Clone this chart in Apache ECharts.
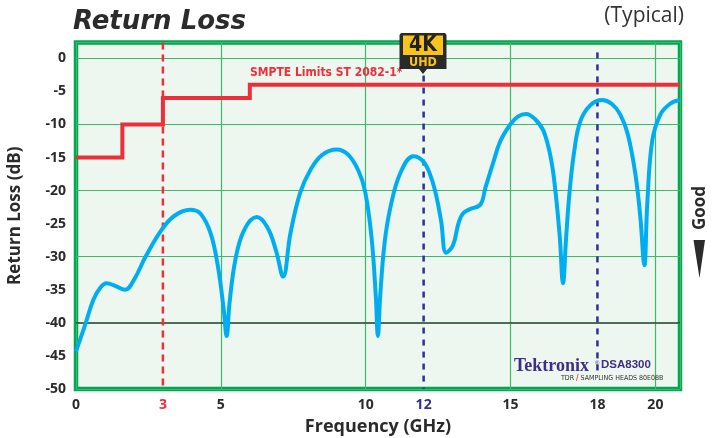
<!DOCTYPE html>
<html><head><meta charset="utf-8">
<script src="https://cdn.jsdelivr.net/npm/echarts@6/dist/echarts.min.js"></script>
<style>html,body{margin:0;padding:0;background:#fff}#c{width:718px;height:438px}</style>
</head><body><div id="c"></div>
<script>
// ---- data ----
const freqGHz = [0.00,0.30,0.60,0.85,1.06,1.35,1.69,2.00,2.40,2.96,3.40,3.94,4.30,4.65,4.90,5.10,5.20,5.30,5.50,5.80,6.24,6.60,6.90,7.15,7.40,7.74,8.10,8.50,9.00,9.40,9.75,9.98,10.20,10.35,10.42,10.50,10.65,10.85,11.20,11.65,11.97,12.20,12.40,12.60,12.78,13.01,13.20,13.35,13.60,13.96,14.13,14.40,14.65,14.99,15.25,15.54,15.85,16.14,16.40,16.55,16.70,16.81,16.92,17.04,17.20,17.41,17.75,18.16,18.50,18.79,19.05,19.31,19.48,19.62,19.72,19.89,20.17,20.50,20.84];
const returnLossDb = [-44.3,-40.5,-36.5,-34.6,-34.0,-34.4,-35.0,-33.5,-30.0,-25.9,-23.8,-22.9,-23.5,-26.5,-31.5,-38.0,-42.0,-37.0,-30.5,-26.0,-24.0,-25.5,-29.0,-33.0,-26.5,-20.3,-16.8,-14.6,-13.8,-14.6,-17.0,-20.1,-27.0,-36.0,-42.0,-36.0,-28.0,-22.6,-17.3,-14.8,-15.5,-17.3,-20.1,-24.5,-29.4,-28.3,-25.0,-23.5,-22.8,-22.1,-19.6,-15.8,-12.5,-10.0,-8.8,-8.4,-9.2,-11.0,-15.3,-20.1,-27.0,-34.0,-27.0,-20.1,-14.0,-9.5,-7.1,-6.3,-6.9,-8.5,-11.5,-17.5,-24.0,-31.3,-22.0,-12.5,-8.5,-6.9,-6.3];
const limitFreq = [0,1.6,1.6,3,3,6,6,20.85];
const limitDb = [-15,-15,-10,-10,-6,-6,-4,-4];
const xTickLabels = [0,3,5,10,12,15,18,20];
const yTickLabels = [0,-5,-10,-15,-20,-25,-30,-35,-40,-45,-50];
const markerFreqs = [3,12,18];

const X_MAX = 20.85, Y_MIN = -50, Y_MAX = 2.4;
const GREEN = '#00a651', GRID_GREEN = '#3dba6c', RED = '#ec2f3b', NAVY = '#2e3192', BLUE = '#00aeef', DARK = '#2b2b2b';
const COND = "'DejaVu Sans Condensed', 'DejaVu Sans', sans-serif";

const pair = (xs, ys) => xs.map((x, i) => [x, ys[i]]);

const chart = echarts.init(document.getElementById('c'), null, {renderer: 'canvas'});
const labelFont = {fontFamily: 'Open Sans', fontWeight: 'bold', fontSize: 14, color: DARK};

chart.setOption({
  animation: false,
  grid: {left: 76, right: 38, top: 42.5, bottom: 49, containLabel: false, outerBoundsMode: 'none',
         show: true, borderColor: GREEN, borderWidth: 4.5, backgroundColor: '#edf6ef'},
  xAxis: [
    {type: 'value', min: 0, max: X_MAX, interval: 1,
     axisLine: {show: false}, axisTick: {show: false}, splitLine: {show: false},
     axisLabel: Object.assign({}, labelFont, {margin: 9,
       formatter: v => xTickLabels.includes(v) ? (v === 3 ? '{r|3}' : v === 12 ? '{n|12}' : String(v)) : '',
       rich: {r: {color: RED, fontFamily: 'Open Sans', fontWeight: 'bold', fontSize: 14},
              n: {color: NAVY, fontFamily: 'Open Sans', fontWeight: 'bold', fontSize: 14}}}),
     name: 'Frequency (GHz)', nameLocation: 'middle', nameGap: 29,
     nameTextStyle: {fontFamily: 'Open Sans', fontWeight: 'bold', fontSize: 18, color: DARK}},
    {type: 'value', min: 0, max: X_MAX, interval: 5, show: true,
     axisLine: {show: false}, axisTick: {show: false}, axisLabel: {show: false},
     splitLine: {show: true, lineStyle: {color: GRID_GREEN, width: 1.2}}}
  ],
  yAxis: [
    {type: 'value', min: Y_MIN, max: Y_MAX, interval: 5,
     axisLine: {show: false}, axisTick: {show: false}, splitLine: {show: false},
     axisLabel: Object.assign({}, labelFont, {margin: 10,
       formatter: v => yTickLabels.includes(v) ? String(v) : ''}),
     name: 'Return Loss (dB)', nameLocation: 'middle', nameGap: 52,
     nameTextStyle: {fontFamily: 'Open Sans', fontWeight: 'bold', fontSize: 17, color: DARK}},
    {type: 'value', min: Y_MIN, max: Y_MAX, interval: 10, show: true,
     axisLine: {show: false}, axisTick: {show: false}, axisLabel: {show: false},
     splitLine: {show: true, lineStyle: {color: GRID_GREEN, width: 1.2}}}
  ],
  series: [
    {type: 'line', silent: true, symbol: 'none', data: [[0, -40], [X_MAX, -40]],
     lineStyle: {color: '#333', width: 1.2}, z: 2},
    {type: 'line', silent: true, symbol: 'none', data: [[markerFreqs[0], Y_MAX], [markerFreqs[0], Y_MIN]],
     lineStyle: {color: RED, width: 2.5, type: [7, 5]}, z: 3},
    {type: 'line', silent: true, symbol: 'none', data: [[markerFreqs[1], -2.6], [markerFreqs[1], Y_MIN]],
     lineStyle: {color: NAVY, width: 2.5, type: [6, 6]}, z: 3},
    {type: 'line', silent: true, symbol: 'none', data: [[markerFreqs[2], 0.9], [markerFreqs[2], -48]],
     lineStyle: {color: NAVY, width: 2.5, type: [6, 6]}, z: 3},
    {name: 'SMPTE Limits ST 2082-1*', type: 'line', symbol: 'none', data: pair(limitFreq, limitDb),
     lineStyle: {color: RED, width: 4, join: 'miter'}, z: 4},
    {name: 'Return Loss', type: 'line', symbol: 'none', smooth: 0.4, data: pair(freqGHz, returnLossDb),
     lineStyle: {color: BLUE, width: 4, join: 'round'}, z: 5}
  ],
  graphic: [
    {type: 'text', left: 73, top: 9, style: {text: 'Return Loss', fontFamily: 'DejaVu Sans', fontWeight: 'bold', fontStyle: 'italic', fontSize: 26, fill: DARK}},
    {type: 'text', right: 34, top: 6, style: {text: '(Typical)', fontFamily: 'Open Sans', fontSize: 21, fill: '#333'}},
    {type: 'text', left: 250, top: 67, style: {text: 'SMPTE Limits ST 2082-1*', fontFamily: COND, fontWeight: 'bold', fontSize: 12, fill: RED}, z: 10},
    // 4K UHD badge
    {type: 'polygon', shape: {points: [[401,33],[445,33],[446.5,35],[446.5,69],[427,69],[423,74],[419,69],[399.5,69],[399.5,35]]}, style: {fill: '#2a2a2a'}, z: 20},
    {type: 'rect', shape: {x: 403, y: 35.5, width: 40, height: 19.5}, style: {fill: '#f8c31b'}, z: 21},
    {type: 'text', x: 423, y: 45.5, style: {text: '4K', fontFamily: COND, fontWeight: 'bold', fontSize: 21, fill: '#222', align: 'center', verticalAlign: 'middle'}, z: 22},
    {type: 'text', x: 423, y: 62.5, style: {text: 'UHD', fontFamily: COND, fontWeight: 'bold', fontSize: 12.5, fill: '#f8c31b', align: 'center', verticalAlign: 'middle'}, z: 22},
    // Good arrow
    {type: 'text', x: 700, y: 208, rotation: Math.PI / 2, style: {text: 'Good', fontFamily: 'Open Sans', fontWeight: 'bold', fontSize: 17, fill: DARK, align: 'center', verticalAlign: 'middle'}},
    {type: 'polygon', shape: {points: [[693.5,240],[705,240],[699.5,278]]}, style: {fill: DARK}},
    // Tektronix logo
    {type: 'text', left: 514, top: 357, style: {text: 'Tektronix', fontFamily: 'Liberation Serif', fontWeight: 'bold', fontSize: 18, fill: '#3e2f85'}, z: 10},
    {type: 'text', left: 595, top: 360, style: {text: '®', fontFamily: 'Liberation Sans', fontSize: 6, fill: '#3e2f85'}, z: 10},
    {type: 'text', left: 601, top: 359, style: {text: 'DSA8300', fontFamily: 'Liberation Sans', fontWeight: 'bold', fontSize: 11.5, fill: '#3e2f85'}, z: 10},
    {type: 'text', left: 561, top: 374, style: {text: '{a|TDR }{r|/}{a| SAMPLING HEADS 80E08B}', rich: {a: {fontFamily: COND, fontSize: 7, fill: '#333'}, r: {fontFamily: 'Liberation Sans', fontSize: 9, fill: RED}}}, z: 10}
  ]
});
</script></body></html>
